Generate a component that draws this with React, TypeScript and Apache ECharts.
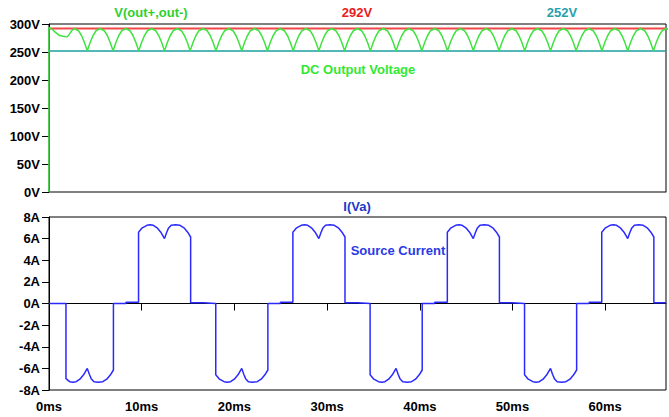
import React, { useEffect, useRef } from "react";
import * as echarts from "echarts";

// ---------- axes ----------
const timeMax = 66.56; // ms
const timeTicks = [0, 10, 20, 30, 40, 50, 60];
const voltMin = 0;
const voltMax = 300;
const voltStep = 50;
const ampMin = -8;
const ampMax = 8;
const ampStep = 2;

// ---------- DC output voltage ----------
const peakVoltage = 292;
const troughVoltage = 252;
// start-up segment (ms, V)
const vStartT = [0, 0, 0.3, 0.7, 1.08, 1.5, 1.97, 2.2, 2.45, 2.74, 3.18, 3.52, 3.82];
const vStartV = [0, 294, 291, 285, 280, 278, 277, 282, 288, 292, 288, 279, 267];
// ripple cusps (ms)
const rippleTroughs = [
  4.13, 6.91, 9.68, 12.46, 15.23, 18.01, 20.79, 23.56, 26.34, 29.11, 31.89, 34.67,
  37.44, 40.22, 42.99, 45.77, 48.55, 51.32, 54.1, 56.87, 59.65, 62.43, 65.2, 67.98,
];
// shape of one ripple arc (fraction of interval, V)
const rippleFrac = [0, 0.11, 0.22, 0.34, 0.5, 0.66, 0.78, 0.89];
const rippleVolts = [252, 267, 279, 288, 292, 288, 279, 267];

// ---------- source current ----------
const negCusps = [4.13, 20.79, 37.44, 54.1];
const posCusps = [12.46, 29.11, 45.77, 62.43];
// one conduction pulse, time relative to its mid cusp (ms) and magnitude (A)
const pulseRelT = [-2.8, -2.4, -1.9, -1.55, -1.2, -0.8, -0.4, 0, 0.22, 0.42, 0.72, 1.2, 1.67, 2.1, 2.5, 2.82];
const pulseAmp = [6.6, 7.0, 7.23, 7.28, 7.23, 7.0, 6.6, 6.0, 6.55, 6.95, 7.23, 7.28, 7.23, 7.0, 6.6, 6.15];
const currentOnset = 1.83;
const onsetAmp = 6.95;
const gapAfterNeg = [0, 0.12];
const gapAfterPos = [0.06, 0];
const gapStepDelay = 1.35;

function buildVoltage(): number[][] {
  const d: number[][] = vStartT.map((t, i) => [t, vStartV[i]]);
  for (let k = 0; k < rippleTroughs.length - 1; k++) {
    const t0 = rippleTroughs[k];
    const t1 = rippleTroughs[k + 1];
    rippleFrac.forEach((f, j) => d.push([t0 + f * (t1 - t0), rippleVolts[j]]));
  }
  d.push([rippleTroughs[rippleTroughs.length - 1], rippleVolts[0]]);
  return d;
}

function buildCurrent(): number[][] {
  const pulses = [
    ...negCusps.map((c) => ({ c, s: -1 })),
    ...posCusps.map((c) => ({ c, s: 1 })),
  ].sort((a, b) => a.c - b.c);
  const d: number[][] = [[0, 0]];
  let level = 0;
  pulses.forEach((p) => {
    const start = p.c + pulseRelT[0];
    if (start < currentOnset) {
      d.push([currentOnset, level]);
      d.push([currentOnset, p.s * onsetAmp]);
    } else {
      d.push([start, level]);
    }
    pulseRelT.forEach((r, j) => {
      const t = p.c + r;
      if (t < currentOnset) return;
      d.push([t, p.s * pulseAmp[j]]);
    });
    const end = p.c + pulseRelT[pulseRelT.length - 1];
    const g = p.s < 0 ? gapAfterNeg : gapAfterPos;
    d.push([end, g[0]]);
    if (end + gapStepDelay >= timeMax) {
      d.push([timeMax, g[0]]);
      level = g[0];
    } else {
      d.push([end + gapStepDelay, g[0]]);
      d.push([end + gapStepDelay, g[1]]);
      level = g[1];
    }
  });
  if (d[d.length - 1][0] < timeMax) d.push([timeMax, level]);
  return d;
}

const FONT = '"Liberation Sans", Arial, sans-serif';

export default function App() {
  const ref = useRef<HTMLDivElement>(null);
  useEffect(() => {
    if (!ref.current) return;
    const chart = echarts.init(ref.current, undefined, { renderer: "svg" });
    const labelStyle = {
      color: "#000",
      fontWeight: "bold" as const,
      fontSize: 13,
      fontFamily: FONT,
    };
    const gridDefaults = {
      show: true,
      borderColor: "#000",
      borderWidth: 1,
      backgroundColor: "transparent",
    };
    const titleFont = `bold 13px ${FONT}`;
    chart.setOption({
      animation: false,
      backgroundColor: "#fff",
      grid: [
        { ...gridDefaults, left: 49, right: 3, top: 24, height: 168 },
        { ...gridDefaults, left: 49, right: 3, top: 217, height: 173 },
      ],
      xAxis: [
        {
          type: "value",
          gridIndex: 0,
          min: 0,
          max: timeMax,
          interval: 10,
          axisLabel: { show: false },
          axisTick: { show: false },
          axisLine: { show: true, lineStyle: { color: "#808080", width: 1 } },
          splitLine: { show: false },
        },
        {
          type: "value",
          gridIndex: 1,
          min: 0,
          max: timeMax,
          interval: 10,
          axisLabel: {
            ...labelStyle,
            margin: 10,
            customValues: timeTicks,
            formatter: (v: number) => (timeTicks.includes(Math.round(v * 1000) / 1000) ? `${v}ms` : ""),
          },
          axisTick: { show: true, length: 7, customValues: timeTicks, lineStyle: { color: "#000" } },
          axisLine: { show: true, lineStyle: { color: "#000", width: 1 } },
          splitLine: { show: false },
        },
      ],
      yAxis: [
        {
          type: "value",
          gridIndex: 0,
          min: voltMin,
          max: voltMax,
          interval: voltStep,
          axisLabel: { ...labelStyle, margin: 9, formatter: (v: number) => `${v}V` },
          axisTick: { show: true, length: 7, lineStyle: { color: "#000" } },
          axisLine: { show: true, lineStyle: { color: "#000" } },
          splitLine: { show: false },
        },
        {
          type: "value",
          gridIndex: 1,
          min: ampMin,
          max: ampMax,
          interval: ampStep,
          axisLabel: { ...labelStyle, margin: 9, formatter: (v: number) => `${v}A` },
          axisTick: { show: true, length: 7, lineStyle: { color: "#000" } },
          axisLine: { show: true, lineStyle: { color: "#000" } },
          splitLine: { show: false },
        },
      ],
      series: [
        {
          type: "line",
          xAxisIndex: 0,
          yAxisIndex: 0,
          data: buildVoltage(),
          showSymbol: false,
          lineStyle: { color: "#3fe23f", width: 1.5 },
          z: 3,
        },
        {
          type: "line",
          xAxisIndex: 0,
          yAxisIndex: 0,
          data: [
            [0, peakVoltage],
            [timeMax, peakVoltage],
          ],
          showSymbol: false,
          lineStyle: { color: "#f04848", width: 2 },
          z: 2,
        },
        {
          type: "line",
          xAxisIndex: 0,
          yAxisIndex: 0,
          data: [
            [0, troughVoltage],
            [timeMax, troughVoltage],
          ],
          showSymbol: false,
          lineStyle: { color: "#1a9f9f", width: 1.5 },
          z: 2,
        },
        {
          type: "line",
          xAxisIndex: 1,
          yAxisIndex: 1,
          data: buildCurrent(),
          showSymbol: false,
          lineStyle: { color: "#2a2aff", width: 1.5 },
          z: 3,
        },
      ],
      graphic: [
        {
          type: "text",
          x: 151,
          y: 12,
          style: { text: "V(out+,out-)", fill: "#2fd02f", font: titleFont, align: "center", verticalAlign: "middle" },
        },
        {
          type: "text",
          x: 357,
          y: 12,
          style: { text: "292V", fill: "#e82020", font: titleFont, align: "center", verticalAlign: "middle" },
        },
        {
          type: "text",
          x: 562,
          y: 12,
          style: { text: "252V", fill: "#28a0ac", font: titleFont, align: "center", verticalAlign: "middle" },
        },
        {
          type: "text",
          x: 358,
          y: 69,
          style: { text: "DC Output Voltage", fill: "#33e833", font: titleFont, align: "center", verticalAlign: "middle" },
        },
        {
          type: "text",
          x: 357,
          y: 206,
          style: { text: "I(Va)", fill: "#2038c8", font: titleFont, align: "center", verticalAlign: "middle" },
        },
        {
          type: "text",
          x: 398,
          y: 250,
          style: { text: "Source Current", fill: "#2a3ae6", font: titleFont, align: "center", verticalAlign: "middle" },
        },
      ],
    });
    return () => chart.dispose();
  }, []);
  return (
    <div
      ref={ref}
      style={{ position: "fixed", left: 0, top: 0, width: 669, height: 417, background: "#fff" }}
    />
  );
}
